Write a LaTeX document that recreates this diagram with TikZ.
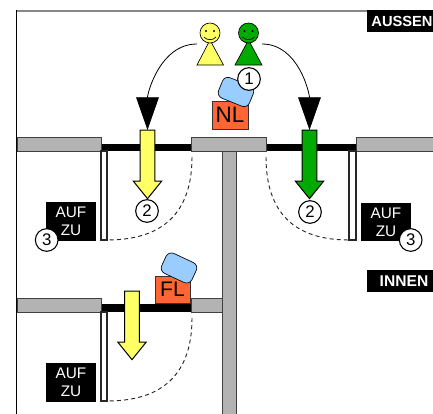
\documentclass[tikz,border=0pt]{standalone}
\usepackage{fontspec}
\setmainfont{Liberation Sans}
\usetikzlibrary{arrows.meta, positioning, shapes.arrows}
\definecolor{dryellow}{HTML}{FFFF66}
\definecolor{drgreen}{HTML}{00AA00}
\definecolor{drorange}{HTML}{FF6633}
\definecolor{drblue}{HTML}{99CCFF}
\definecolor{drgray}{HTML}{B3B3B3}
\definecolor{drframe}{HTML}{888888}

\begin{document}
\begin{tikzpicture}[
  x=0.75pt, y=-0.75pt,
  every node/.style={outer sep=0pt},
  wallpart/.style={draw=black!75, line width=0.75pt, fill=drgray},
  doorbar/.style={fill=black},
  doorleaf/.style={draw=black!85, line width=0.85pt, fill=white},
  swing/.style={draw=black!85, line width=0.7pt, dash pattern=on 3pt off 2.4pt},
  keybox/.style={rectangle, fill=black, text=white, minimum width=37.5pt, minimum height=29pt, align=center, inner sep=0pt, font=\fontsize{11.5}{13.5}\selectfont},
  sidebox/.style={rectangle, fill=black, text=white, minimum width=49.5pt, minimum height=16.5pt, inner sep=0pt, font=\fontsize{11.7}{14}\selectfont\bfseries},
  numdot/.style={circle, draw=black, line width=0.8pt, fill=white, minimum size=17pt, inner sep=0pt, font=\fontsize{12.6}{14}\selectfont},
  lockbox/.style={rectangle, draw=black!80, line width=0.5pt, fill=drorange, inner sep=0pt},
  handblob/.style={rectangle, rounded corners=4.5pt, draw=black, line width=0.5pt, fill=drblue, minimum width=25pt, minimum height=16.5pt},
  walkarrow/.style={single arrow, draw=black, line width=0.75pt, shape border rotate=270, minimum height=51.5pt, single arrow head extend=5.2pt, single arrow tip angle=78, inner sep=5.1pt},
  headdot/.style={circle, draw=black, line width=0.5pt, minimum size=15pt, inner sep=0pt},
  swingtip/.style={-{Triangle[length=24.5pt, width=17pt]}, line width=0.6pt},
]
\useasboundingbox (0,0) rectangle (433,414);

% frame
\draw[drframe, line width=1.5pt] (17,10.5) -- (367,10.5);
\draw[black, line width=0.8pt] (16.5,10) -- (16.5,414);

% walls
\draw[wallpart] (222,151) rectangle (236,414);
\fill[doorbar] (101,144) rectangle (191,151);
\fill[doorbar] (266,144) rectangle (356,151);
\draw[wallpart] (17,137) rectangle (101,151);
\draw[wallpart] (191,137) rectangle (266,151);
\draw[wallpart] (356,137) rectangle (434,151);
\fill[doorbar] (101,304) rectangle (191,312);
\draw[wallpart] (17,298) rectangle (101,312);
\draw[wallpart] (191,298) rectangle (222,312);

% doors
\draw[doorleaf] (101,151) rectangle (107,240);
\draw[doorleaf] (349,151) rectangle (356,240);
\draw[doorleaf] (101,312) rectangle (107,401);
\coordinate (leftjamb) at (192,157);
\coordinate (leftopen) at (107,240);
\coordinate (rightjamb) at (266,157);
\coordinate (rightopen) at (349,240);
\coordinate (lowjamb) at (192,318);
\coordinate (lowopen) at (107,401);
\draw[swing] (leftjamb) to[out=-90, in=0, looseness=1.2] (leftopen);
\draw[swing] (rightjamb) to[out=-90, in=180, looseness=1.2] (rightopen);
\draw[swing] (lowjamb) to[out=-90, in=0, looseness=1.2] (lowopen);

% people
\draw[fill=dryellow, draw=black, line width=0.5pt] (210,40) -- (223.5,65) -- (197,65) -- cycle;
\node[headdot, fill=dryellow] (yellowhead) at (210,33) {};
\fill (206,31) circle (1.2);
\fill (214,31) circle (1.2);
\draw[line width=0.5pt] (204,37) to[out=-50, in=230] (216,37);
\draw[fill=drgreen, draw=black, line width=0.5pt] (248.5,40) -- (262,65) -- (235,65) -- cycle;
\node[headdot, fill=drgreen] (greenhead) at (248.5,33) {};
\fill (244.5,31) circle (1.2);
\fill (252.5,31) circle (1.2);
\draw[line width=0.5pt] (242.5,37) to[out=-50, in=230] (254.5,37);
\coordinate (yellowside) at (197,44);
\coordinate (greenside) at (262,44);

% walking arrows
\node[walkarrow, fill=dryellow, anchor=tail] (yellowwalk) at (147.5,130) {};
\node[walkarrow, fill=drgreen, anchor=tail] (greenwalk) at (309.5,130) {};
\node[walkarrow, fill=dryellow, anchor=tail] (lowwalk) at (132,291) {};
\draw[swingtip] (yellowside) to[out=180, in=90, looseness=0.95] (yellowwalk.tail);
\draw[swingtip] (greenside) to[out=0, in=90, looseness=0.95] (greenwalk.tail);

% locks
\node[lockbox, minimum width=27pt, minimum height=21pt, font=\fontsize{16.8}{18}\selectfont] (nl) at (230,115) {NL};
\node[handblob, rotate=-22] (nlhand) at (236,92) {};
\node[numdot] (one) at (249,79) {1};
\node[lockbox, minimum width=26.5pt, minimum height=20.5pt, font=\fontsize{15.8}{18}\selectfont] (fl) at (172.5,289.5) {FL};
\node[handblob, rotate=-25] (flhand) at (179,268) {};

% labels
\node[keybox] (leftkey) at (71,221.5) {AUF\\ZU};
\node[keybox] (rightkey) at (386,222) {AUF\\ZU};
\node[keybox] (lowkey) at (71,382.5) {AUF\\ZU};
\node[numdot] (twoleft) at (147,211) {2};
\node[numdot] (tworight) at (310,212) {2};
\node[numdot] (threeleft) at (46.7,240) {3};
\node[numdot] (threeright) at (410.7,240) {3};
\node[sidebox] (innen) at (400,281) {\hspace{6pt}INNEN};
\node[sidebox, font=\fontsize{11}{14}\selectfont\bfseries] (aussen) at (400,21) {\hspace{3pt}AUSSEN};
\end{tikzpicture}
\end{document}
